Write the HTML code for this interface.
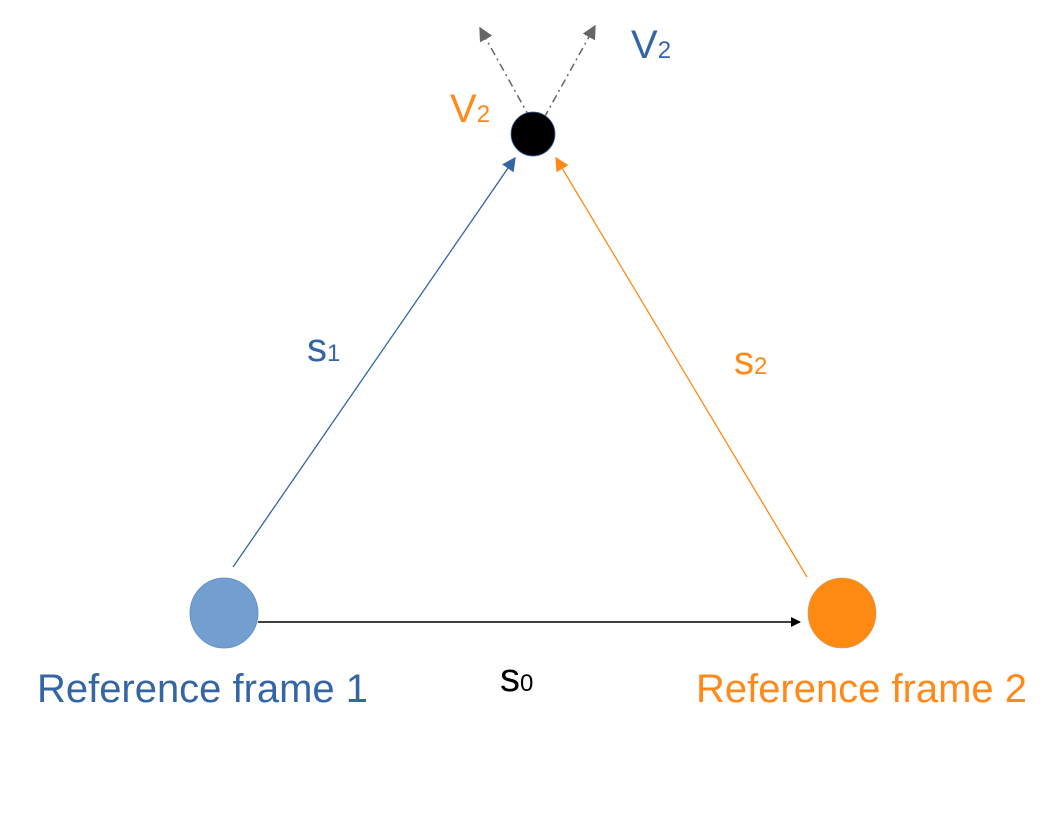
<!DOCTYPE html>
<html><head><meta charset="utf-8"><style>body{margin:0;background:#fff}svg{display:block}</style></head><body>
<svg width="1056" height="816" viewBox="0 0 1056 816" xmlns="http://www.w3.org/2000/svg" font-family="Liberation Sans, sans-serif">
<defs>
<marker id="ab" markerWidth="10" markerHeight="10" refX="9" refY="5" orient="auto" markerUnits="userSpaceOnUse" viewBox="0 0 10 10"><path d="M0,0 L10,5 L0,10z" fill="#000"/></marker>
<marker id="abl" viewBox="0 0 10 10" refX="9" refY="5" markerWidth="14" markerHeight="14" orient="auto" markerUnits="userSpaceOnUse"><path d="M0,0 L10,5 L0,10z" fill="#3465a4"/></marker>
<marker id="aor" viewBox="0 0 10 10" refX="9" refY="5" markerWidth="14" markerHeight="14" orient="auto" markerUnits="userSpaceOnUse"><path d="M0,0 L10,5 L0,10z" fill="#ff8a1a"/></marker>
<marker id="agr" viewBox="0 0 10 10" refX="9" refY="5" markerWidth="14" markerHeight="14" orient="auto" markerUnits="userSpaceOnUse"><path d="M0,0 L10,5 L0,10z" fill="#666"/></marker>
</defs>
<line x1="233" y1="567" x2="515" y2="158" stroke="#3465a4" stroke-width="1.3" marker-end="url(#abl)"/>
<line x1="807" y1="577" x2="556" y2="158" stroke="#ff8a1a" stroke-width="1.3" marker-end="url(#aor)"/>
<line x1="258" y1="622" x2="800" y2="622" stroke="#000" stroke-width="1.5" marker-end="url(#ab)"/>
<line x1="530" y1="118" x2="480" y2="28" stroke="#666" stroke-width="1.5" stroke-dasharray="8,4,2,4" marker-end="url(#agr)"/>
<line x1="544" y1="118" x2="595" y2="26" stroke="#666" stroke-width="1.5" stroke-dasharray="8,4,2,4" marker-end="url(#agr)"/>
<ellipse cx="224" cy="613" rx="34" ry="35" fill="#729fcf" stroke="#5b8cc4" stroke-width="0.8"/>
<ellipse cx="842" cy="613" rx="34" ry="35" fill="#ff8a12" stroke="#c9a070" stroke-width="0.6"/>
<circle cx="533" cy="134" r="22" fill="#000" stroke="#3465a4" stroke-width="0.8"/>
<text x="37" y="702" font-size="40" fill="#3465a4" textLength="331" lengthAdjust="spacingAndGlyphs">Reference frame 1</text>
<text x="696" y="702" font-size="40" fill="#ff8a1a" textLength="331" lengthAdjust="spacingAndGlyphs">Reference frame 2</text>
<text x="500" y="691" font-size="40" fill="#000">s<tspan font-size="24">0</tspan></text>
<text x="307" y="361" font-size="40" fill="#3465a4">s<tspan font-size="24">1</tspan></text>
<text x="734" y="374" font-size="40" fill="#ff8a1a">s<tspan font-size="24">2</tspan></text>
<text x="450" y="122" font-size="40" fill="#ff8a1a">V<tspan font-size="24">2</tspan></text>
<text x="631" y="58" font-size="40" fill="#3465a4">V<tspan font-size="24">2</tspan></text>
</svg>
</body></html>
